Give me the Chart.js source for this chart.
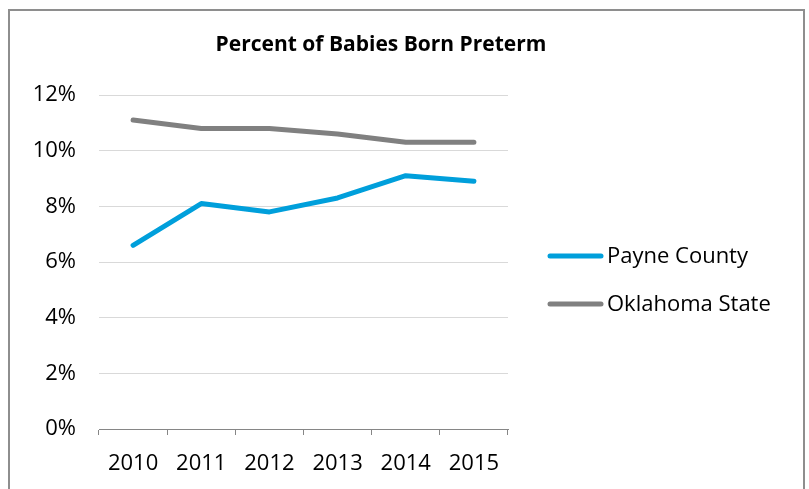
<!DOCTYPE html>
<html>
<head>
<meta charset="utf-8">
<script src="https://cdn.jsdelivr.net/npm/chart.js@4"></script>
<style>
    html, body { margin: 0; padding: 0; background: #fff; }
    #wrap { position: relative; width: 809px; height: 489px; }
    #frame {
        position: absolute; left: 8px; top: 9px; width: 793px; height: 480px;
        border: 2px solid #8e8e8e; border-bottom: none; pointer-events: none;
    }
</style>
</head>
<body>
<div id="wrap">
    <canvas id="pretermChart" width="809" height="489"></canvas>
    <div id="frame"></div>
</div>
<script>
const years = ["2010", "2011", "2012", "2013", "2014", "2015"]
const payneCounty = [6.6, 8.1, 7.8, 8.3, 9.1, 8.9]
const oklahomaState = [11.1, 10.8, 10.8, 10.6, 10.3, 10.3]
const yMin = 0
const yMax = 12
const yStep = 2

const chartTitle = "Percent of Babies Born Preterm"
const font = "'Open Sans', 'Noto Sans', sans-serif"

// title + legend drawn by hand, the built-in ones can't sit where Excel put them
const sideText = {
    id: "sideText",
    afterDraw(chart) {
        const c = chart.ctx
        c.save()
        c.fillStyle = "#000"
        c.font = "bold 21px " + font
        c.textAlign = "center"
        c.textBaseline = "alphabetic"
        c.fillText(chartTitle, 381, 51)

        c.font = "22px " + font
        c.textAlign = "left"
        c.textBaseline = "middle"
        chart.data.datasets.forEach((ds, i) => {
            const y = 256 + i * 48
            c.strokeStyle = ds.borderColor
            c.lineWidth = 5
            c.lineCap = "round"
            c.beginPath()
            c.moveTo(550, y)
            c.lineTo(601, y)
            c.stroke()
            c.fillText(ds.label, 607, y + 1)
        })
        c.restore()
    }
}

const data = {
    labels: years,
    datasets: [{
        label: "Payne County",
        data: payneCounty,
        borderColor: "#009fdb",
        backgroundColor: "#009fdb"
    }, {
        label: "Oklahoma State",
        data: oklahomaState,
        borderColor: "#808080",
        backgroundColor: "#808080"
    }]
}

const config = {
    type: "line",
    data: data,
    options: {
        responsive: false,
        animation: false,
        layout: {
            padding: { top: 95, right: 301, bottom: 0, left: 0 }
        },
        elements: {
            line: { borderWidth: 5, tension: 0, borderCapStyle: "round", borderJoinStyle: "round" },
            point: { radius: 0, hoverRadius: 0 }
        },
        scales: {
            x: {
                offset: true,
                afterFit: (scale) => { scale.height = 60 },
                grid: {
                    offset: true,
                    drawOnChartArea: false,
                    drawTicks: true,
                    tickLength: 6,
                    color: "#868686"
                },
                border: { display: true, color: "#868686", width: 1 },
                ticks: {
                    color: "#000",
                    padding: 16,
                    font: { family: font, size: 22 }
                }
            },
            y: {
                min: yMin,
                max: yMax,
                afterFit: (scale) => { scale.width = 99 },
                grid: { color: "#d9d9d9", lineWidth: 1, drawTicks: false },
                border: { display: false },
                ticks: {
                    stepSize: yStep,
                    color: "#000",
                    padding: 23,
                    font: { family: font, size: 22 },
                    callback: (v) => v + "%"
                }
            }
        },
        plugins: {
            legend: { display: false },
            title: { display: false },
            tooltip: { enabled: false }
        }
    },
    plugins: [sideText]
}

const pretermChart = new Chart(document.getElementById("pretermChart"), config)
</script>
</body>
</html>
